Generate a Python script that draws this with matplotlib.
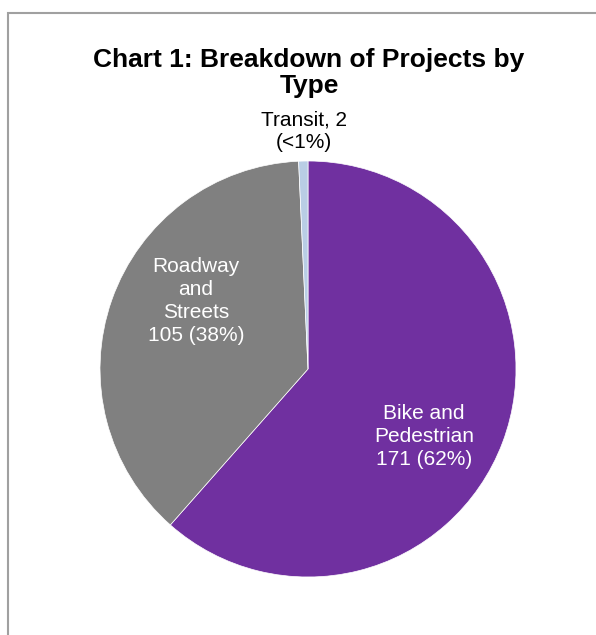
import matplotlib.pyplot as plt
from matplotlib.patches import Rectangle

plt.rcParams['font.family'] = ['Liberation Sans', 'DejaVu Sans']

types = ['Bike and Pedestrian', 'Roadway and Streets', 'Transit']
counts = [171, 105, 2]
label_text = ['Bike and\nPedestrian\n171 (62%)',
              'Roadway\nand\nStreets\n105 (38%)',
              'Transit, 2\n(<1%)']
colors = ['#7030A0', '#808080', '#B9CDE5']

fig = plt.figure(figsize=(5.96, 6.35), dpi=100)

# chart area border (runs off right and bottom like the screenshot)
fig.patches.append(Rectangle((8 / 596, -0.1), 1.1, 1 - 13 / 635 + 0.1,
                             transform=fig.transFigure, fill=False,
                             edgecolor='#A0A0A0', linewidth=1.5))

cx, cy, r = 308, 369, 208
ax = fig.add_axes([(cx - r) / 596, (635 - cy - r) / 635, 2 * r / 596, 2 * r / 635])
wedges, _ = ax.pie(counts, colors=colors, startangle=90, counterclock=False,
                   wedgeprops=dict(edgecolor='white', linewidth=0.5))
ax.set_xlim(-1, 1)
ax.set_ylim(-1, 1)
ax.set_aspect('equal')

# label positions in pie units
ax.text(0.558, -0.325, label_text[0], ha='center', va='center',
        color='white', fontsize=15, linespacing=1.25)
ax.text(-0.538, 0.327, label_text[1], ha='center', va='center',
        color='white', fontsize=15, linespacing=1.25)
ax.text(-0.02, 1.144, label_text[2], ha='center', va='center',
        color='black', fontsize=15, linespacing=1.25, clip_on=False)

fig.text(309 / 596, 1 - 73 / 635, 'Chart 1: Breakdown of Projects by\nType',
         ha='center', va='center', fontsize=19, fontweight='bold',
         linespacing=1.09)

fig.savefig('out.png', dpi=100, facecolor='white')
